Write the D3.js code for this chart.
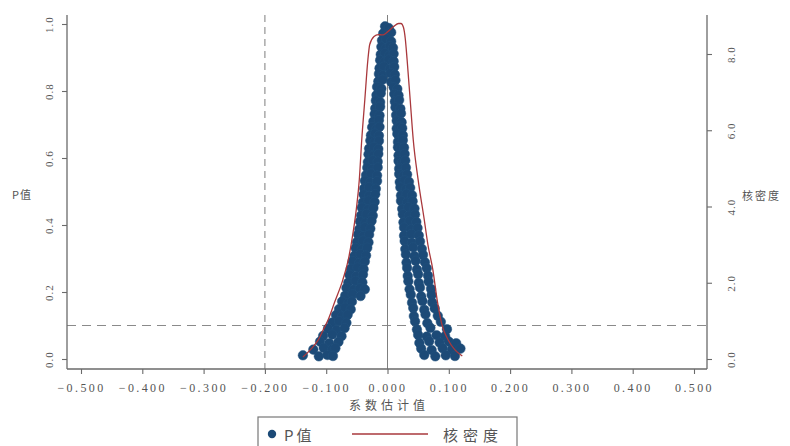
<!DOCTYPE html>
<html>
<head>
<meta charset="utf-8">
<script src="https://cdn.jsdelivr.net/npm/d3@7"></script>
<style>
  html, body { margin: 0; padding: 0; background: #fff; }
  svg { display: block; }
</style>
</head>
<body>
<svg id="chart" width="790" height="446"></svg>
<script>
// Placebo draws: [coefficient estimate, p value]
const placeboDraws = [
  [-0.004,0.993],[0.002,0.988],
  [-0.007,0.972],[0.000,0.968],[0.006,0.975],
  [-0.009,0.951],[-0.002,0.955],[0.006,0.948],
  [-0.010,0.932],[-0.003,0.927],[0.004,0.934],[0.009,0.929],
  [-0.011,0.909],[-0.004,0.913],[0.003,0.906],[0.010,0.911],
  [-0.012,0.892],[-0.005,0.887],[0.002,0.894],[0.010,0.889],
  [-0.013,0.868],[-0.006,0.873],[0.004,0.866],[0.011,0.872],
  [-0.014,0.851],[-0.007,0.847],[0.005,0.853],[0.012,0.849],
  [-0.015,0.829],[-0.008,0.834],[0.006,0.827],[0.013,0.832],
  [-0.017,0.812],[-0.010,0.807],[0.010,0.811],[0.016,0.806],
  [-0.018,0.788],[-0.011,0.793],[0.011,0.791],[0.018,0.787],
  [-0.019,0.771],[-0.012,0.767],[0.012,0.768],[0.019,0.773],
  [-0.020,0.748],[-0.012,0.753],[0.013,0.751],[0.021,0.747],
  [-0.021,0.731],[-0.013,0.727],[0.014,0.728],[0.022,0.733],
  [-0.023,0.709],[-0.014,0.713],[0.015,0.711],[0.023,0.707],
  [-0.025,0.692],[-0.018,0.687],[-0.013,0.693],[0.015,0.688],[0.020,0.694],[0.024,0.689],
  [-0.027,0.668],[-0.020,0.673],[-0.014,0.667],[0.016,0.672],[0.025,0.668],
  [-0.028,0.652],[-0.021,0.647],[-0.014,0.651],[0.017,0.648],[0.025,0.653],
  [-0.030,0.628],[-0.022,0.633],[-0.015,0.627],[0.017,0.632],[0.022,0.627],[0.027,0.631],
  [-0.031,0.611],[-0.023,0.607],[-0.015,0.612],[0.018,0.608],[0.028,0.612],
  [-0.032,0.588],[-0.024,0.593],[-0.016,0.589],[0.018,0.591],[0.024,0.587],[0.029,0.592],
  [-0.033,0.571],[-0.025,0.567],[-0.016,0.572],[0.019,0.568],[0.030,0.571],
  [-0.035,0.549],[-0.027,0.553],[-0.017,0.548],[0.019,0.552],[0.026,0.547],[0.032,0.551],
  [-0.037,0.532],[-0.028,0.527],[-0.017,0.531],[0.020,0.528],[0.028,0.533],[0.035,0.529],
  [-0.038,0.509],[-0.030,0.513],[-0.019,0.508],[0.021,0.512],[0.030,0.507],[0.037,0.511],
  [-0.039,0.491],[-0.030,0.487],[-0.020,0.492],[0.022,0.488],[0.031,0.493],[0.040,0.489],
  [-0.040,0.468],[-0.031,0.473],[-0.021,0.469],[0.022,0.472],[0.032,0.467],[0.041,0.471],
  [-0.042,0.452],[-0.032,0.447],[-0.023,0.451],[0.024,0.448],[0.034,0.453],[0.044,0.449],
  [-0.043,0.429],[-0.034,0.433],[-0.024,0.428],[0.025,0.432],[0.035,0.428],[0.045,0.431],
  [-0.045,0.411],[-0.036,0.407],[-0.026,0.412],[0.026,0.408],[0.036,0.412],[0.047,0.409],
  [-0.046,0.388],[-0.037,0.393],[-0.028,0.389],[0.027,0.392],[0.038,0.387],[0.049,0.391],
  [-0.048,0.372],[-0.039,0.367],[-0.030,0.371],[0.027,0.368],[0.039,0.373],[0.051,0.369],
  [-0.050,0.349],[-0.040,0.353],[-0.031,0.348],[0.028,0.352],[0.040,0.347],[0.053,0.351],
  [-0.052,0.331],[-0.042,0.327],[-0.033,0.332],[0.029,0.328],[0.042,0.333],[0.056,0.329],
  [-0.054,0.308],[-0.044,0.313],[-0.035,0.309],[0.030,0.312],[0.044,0.307],[0.058,0.311],
  [-0.057,0.292],[-0.046,0.287],[-0.037,0.291],[0.031,0.288],[0.046,0.293],[0.061,0.289],
  [-0.060,0.269],[-0.049,0.273],[-0.039,0.268],[0.032,0.272],[0.048,0.267],[0.064,0.271],
  [-0.062,0.251],[-0.051,0.247],[-0.040,0.252],[0.033,0.248],[0.050,0.253],[0.066,0.249],
  [-0.064,0.228],[-0.052,0.233],[-0.041,0.229],[0.034,0.232],[0.051,0.227],[0.067,0.231],
  [-0.067,0.212],[-0.055,0.207],[-0.045,0.211],[-0.037,0.208],[0.036,0.208],[0.053,0.213],[0.071,0.209],
  [-0.069,0.189],[-0.057,0.193],[-0.044,0.188],[0.038,0.192],[0.055,0.187],[0.072,0.191],
  [-0.074,0.172],[-0.064,0.167],[-0.058,0.171],[0.040,0.168],[0.057,0.173],[0.073,0.169],
  [-0.079,0.149],[-0.069,0.153],[-0.060,0.148],[0.042,0.152],[0.060,0.147],[0.077,0.151],
  [-0.084,0.131],[-0.074,0.127],[-0.065,0.132],[0.043,0.128],[0.062,0.133],[0.082,0.129],
  [-0.090,0.109],[-0.079,0.113],[-0.067,0.108],[0.045,0.112],[0.065,0.107],[0.087,0.111],
  [-0.097,0.091],[-0.083,0.087],[-0.070,0.092],[0.048,0.088],[0.070,0.093],[0.097,0.089],
  [-0.105,0.069],[-0.090,0.073],[-0.075,0.068],[0.050,0.072],[0.064,0.067],[0.080,0.071],[0.094,0.068],
  [-0.110,0.052],[-0.095,0.047],[-0.080,0.051],[0.052,0.048],[0.068,0.053],[0.085,0.049],[0.100,0.052],[0.112,0.047],
  [-0.121,0.028],[-0.104,0.033],[-0.090,0.029],[-0.085,0.032],[0.055,0.031],[0.072,0.027],[0.090,0.032],[0.105,0.028],[0.119,0.031],
  [-0.138,0.011],[-0.112,0.008],[-0.098,0.012],[-0.089,0.009],[0.060,0.012],[0.078,0.008],[0.095,0.011],[0.110,0.009]
];

// Kernel density of the placebo coefficients
const densityGrid = [-0.138,-0.126,-0.113,-0.105,-0.097,-0.086,-0.073,-0.064,-0.058,-0.051,-0.046,-0.042,
  -0.037,-0.032,-0.029,-0.022,-0.015,-0.008,0.000,0.010,0.018,0.022,0.026,0.029,0.032,0.037,0.042,
  0.050,0.060,0.066,0.074,0.081,0.089,0.099,0.110,0.122];
const densityValues = [0.05,0.24,0.50,0.76,1.02,1.50,2.07,2.60,3.13,3.91,4.70,5.75,
  6.80,7.85,8.25,8.46,8.51,8.50,8.58,8.72,8.80,8.80,8.70,8.40,7.85,6.80,5.75,
  4.70,3.65,2.99,2.34,1.55,0.89,0.50,0.24,0.08];

const xTicks = [-0.5,-0.4,-0.3,-0.2,-0.1,0,0.1,0.2,0.3,0.4,0.5];
const pTicks = [0,0.2,0.4,0.6,0.8,1.0];
const densityTicks = [0,2,4,6,8];
const trueEstimate = -0.2;   // benchmark coefficient
const pCutoff = 0.1;

const svg = d3.select("#chart");
const navy = "#1c4a77", kdColor = "#a9383c", axisColor = "#6a6a6a", textColor = "#555";
const latin = "'Liberation Serif', 'Noto Sans CJK SC', serif";
const cjk = "'Noto Sans CJK SC', sans-serif";

const plotL = 67, plotR = 707, plotT = 15, plotB = 369;
const x = d3.scaleLinear().domain([-0.5, 0.5]).range([81, 694]);
const yP = d3.scaleLinear().domain([0, 1]).range([359, 24]);
const yD = d3.scaleLinear().domain([0, 8]).range([359, 54]);

// reference lines
svg.append("line")
  .attr("x1", x(trueEstimate)).attr("x2", x(trueEstimate))
  .attr("y1", plotT).attr("y2", plotB)
  .attr("stroke", "#8a8a8a").attr("stroke-width", 1.1).attr("stroke-dasharray", "7,5");
svg.append("line")
  .attr("x1", plotL).attr("x2", plotR)
  .attr("y1", yP(pCutoff)).attr("y2", yP(pCutoff))
  .attr("stroke", "#8a8a8a").attr("stroke-width", 1.1).attr("stroke-dasharray", "9,6");
svg.append("line")
  .attr("x1", x(0)).attr("x2", x(0))
  .attr("y1", plotT).attr("y2", plotB)
  .attr("stroke", "#808080").attr("stroke-width", 1);

// scatter of p values
svg.append("g").selectAll("circle")
  .data(placeboDraws).join("circle")
  .attr("cx", d => x(d[0])).attr("cy", d => yP(d[1]))
  .attr("r", 4.8)
  .attr("fill", navy).attr("stroke", "#23537f").attr("stroke-width", 0.5);

// kernel density line
const kd = densityGrid.map((c, i) => [c, densityValues[i]]);
svg.append("path")
  .datum(kd)
  .attr("fill", "none").attr("stroke", kdColor).attr("stroke-width", 1.3)
  .attr("d", d3.line().x(d => x(d[0])).y(d => yD(d[1])).curve(d3.curveMonotoneX));

// axis frame lines
const frame = svg.append("g").attr("stroke", axisColor).attr("stroke-width", 1.3);
frame.append("line").attr("x1", plotL).attr("x2", plotL).attr("y1", plotT).attr("y2", plotB);
frame.append("line").attr("x1", plotR).attr("x2", plotR).attr("y1", plotT).attr("y2", plotB);
frame.append("line").attr("x1", plotL).attr("x2", plotR).attr("y1", plotB).attr("y2", plotB);

function styleAxis(g) {
  g.select(".domain").remove();
  g.selectAll(".tick line").attr("stroke", axisColor).attr("stroke-width", 1.1);
  g.selectAll(".tick text").attr("fill", textColor).style("font-family", latin);
}

// bottom axis
const fmtX = d3.format(".3f");
svg.append("g").attr("transform", `translate(0,${plotB})`)
  .call(d3.axisBottom(x).tickValues(xTicks).tickSize(5).tickFormat(d => fmtX(d)))
  .call(styleAxis)
  .call(g => g.selectAll(".tick text")
    .attr("y", 23).attr("dy", null)
    .style("font-size", "12px").style("letter-spacing", "2.4px"));

// left axis (p value)
const fmtY = d3.format(".1f");
svg.append("g").attr("transform", `translate(${plotL},0)`)
  .call(d3.axisLeft(yP).tickValues(pTicks).tickSize(5).tickFormat(d => fmtY(d)))
  .call(styleAxis)
  .call(g => g.selectAll(".tick text")
    .attr("x", null).attr("dy", null)
    .attr("transform", "translate(-14,0) rotate(-90)")
    .attr("text-anchor", "middle")
    .style("font-size", "11px").style("letter-spacing", "1px"));

// right axis (density)
svg.append("g").attr("transform", `translate(${plotR},0)`)
  .call(d3.axisRight(yD).tickValues(densityTicks).tickSize(5).tickFormat(d => fmtY(d)))
  .call(styleAxis)
  .call(g => g.selectAll(".tick text")
    .attr("x", null).attr("dy", null)
    .attr("transform", "translate(28,0) rotate(-90)")
    .attr("text-anchor", "middle")
    .style("font-size", "11px").style("letter-spacing", "1px"));

// axis titles
svg.append("text").attr("x", 12).attr("y", 199)
  .attr("fill", textColor).style("font-family", cjk).style("font-size", "11px")
  .style("letter-spacing", "1px").text("P值");
svg.append("text").attr("x", 742).attr("y", 200)
  .attr("fill", textColor).style("font-family", cjk).style("font-size", "11px")
  .style("letter-spacing", "2px").text("核密度");
svg.append("text").attr("x", 349).attr("y", 410)
  .attr("fill", textColor).style("font-family", cjk).style("font-size", "12px")
  .style("letter-spacing", "4px").text("系数估计值");

// legend
const lg = svg.append("g");
lg.append("rect").attr("x", 258).attr("y", 417).attr("width", 259).attr("height", 50)
  .attr("fill", "#fff").attr("stroke", "#777").attr("stroke-width", 1.2);
lg.append("circle").attr("cx", 272).attr("cy", 434).attr("r", 4.2).attr("fill", navy);
lg.append("text").attr("x", 284).attr("y", 441)
  .attr("fill", textColor).style("font-family", cjk).style("font-size", "15px")
  .style("letter-spacing", "3px").text("P值");
lg.append("line").attr("x1", 352).attr("x2", 428).attr("y1", 434).attr("y2", 434)
  .attr("stroke", kdColor).attr("stroke-width", 1.3);
lg.append("text").attr("x", 443).attr("y", 441)
  .attr("fill", textColor).style("font-family", cjk).style("font-size", "15px")
  .style("letter-spacing", "5px").text("核密度");
</script>
</body>
</html>
